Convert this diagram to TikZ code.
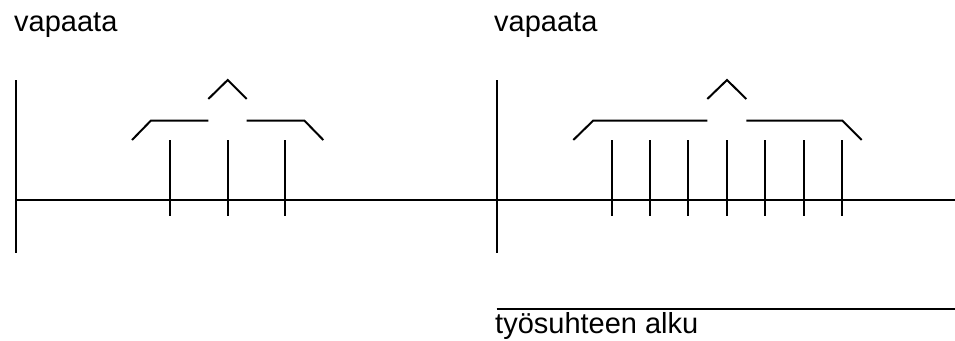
\documentclass[tikz,border=0pt]{standalone}
\usepackage{fontspec}
\setmainfont{Liberation Sans}
\begin{document}
\begin{tikzpicture}[x=1pt,y=-1pt,
  ln/.style={line width=2pt,black},
  lbl/.style={anchor=base west,inner sep=0pt,font=\fontsize{29}{34}\selectfont}]
\useasboundingbox (0,0) rectangle (955,340);
% labels
\node[lbl] (v1) at (14,31.5) {vapaata};
\node[lbl] (v2) at (494,31.5) {vapaata};
\node[lbl] (ta) at (495,333) {työsuhteen alku};
% axis
\draw[ln] (16,200) -- (955,200);
\draw[ln] (16,80) -- (16,253);
\draw[ln] (496.7,80) -- (496.7,253);
% left ticks
\foreach \x in {170,227.7,285}
  \draw[ln] (\x,140) -- (\x,216);
% left brace
\draw[ln] (132,140) -- (151,120.5) -- (208.3,120.5);
\draw[ln] (208.3,99) -- (227.7,80) -- (246.7,99);
\draw[ln] (246.7,120.5) -- (304.3,120.5) -- (323.3,140);
% right ticks
\foreach \x in {611.7,650,688.3,726.7,765,804,842.3}
  \draw[ln] (\x,140) -- (\x,216);
% right brace
\draw[ln] (573.3,140) -- (593.3,120.5) -- (707.3,120.5);
\draw[ln] (707.3,99) -- (727,80) -- (746.3,99);
\draw[ln] (746.3,120.5) -- (842.3,120.5) -- (861.7,140);
% bottom line
\draw[ln] (496.7,309.3) -- (955,309.3);
\end{tikzpicture}
\end{document}
